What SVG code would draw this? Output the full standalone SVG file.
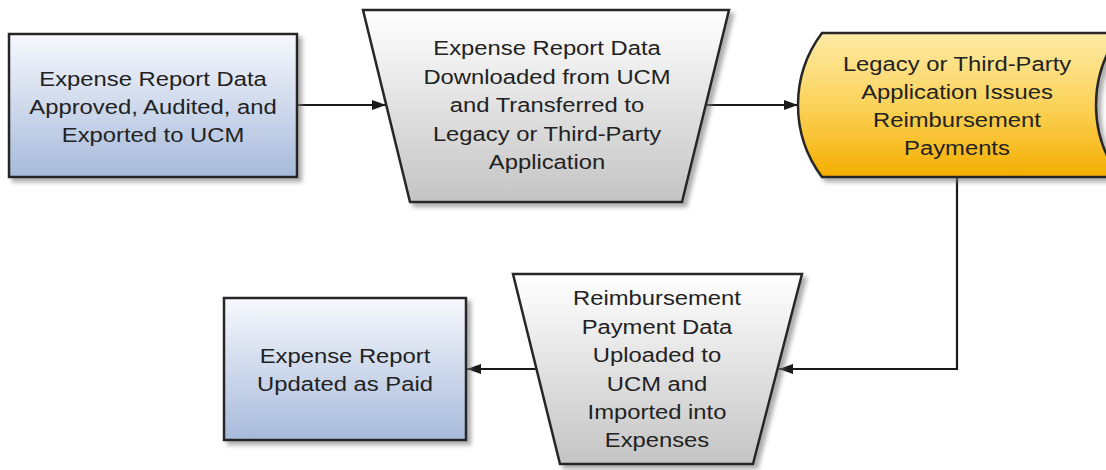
<svg xmlns="http://www.w3.org/2000/svg" width="1106" height="470" viewBox="0 0 1106 470">
<defs>
<linearGradient id="gBlue" x1="0" y1="0" x2="0" y2="1"><stop offset="0" stop-color="#f7f9fd"/><stop offset="1" stop-color="#a7badb"/></linearGradient>
<linearGradient id="gGray" x1="0" y1="0" x2="0" y2="1"><stop offset="0" stop-color="#ffffff"/><stop offset="1" stop-color="#c4c4c4"/></linearGradient>
<linearGradient id="gYel" x1="0" y1="0" x2="0" y2="1"><stop offset="0" stop-color="#fdeaa6"/><stop offset="0.5" stop-color="#fbd35a"/><stop offset="1" stop-color="#f5ae00"/></linearGradient>
<filter id="sh" x="-10%" y="-10%" width="130%" height="130%"><feDropShadow dx="4" dy="4" stdDeviation="2" flood-color="#777" flood-opacity="0.6"/></filter>
<marker id="ah" viewBox="0 0 14 10" refX="14" refY="5" markerWidth="14" markerHeight="10" markerUnits="userSpaceOnUse" orient="auto"><path d="M0,0 L14,5 L0,10 z" fill="#1a1a1a"/></marker>
</defs>
<style>
.shape{stroke:#262626;stroke-width:2.5;filter:url(#sh)}
.t{font-family:"Liberation Sans",Arial,sans-serif;font-size:20px;fill:#222;text-anchor:middle}
.c{fill:none;stroke:#1a1a1a;stroke-width:2.2}
</style>
<g id="connectors">
<line class="c" x1="297" y1="105" x2="386" y2="105" marker-end="url(#ah)"/>
<line class="c" x1="706" y1="105" x2="798" y2="105" marker-end="url(#ah)"/>
<polyline class="c" points="957,177 957,369 779,369" marker-end="url(#ah)"/>
<line class="c" x1="536" y1="369" x2="467" y2="369" marker-end="url(#ah)"/>
</g>
<g id="n1">
<rect class="shape" x="9" y="34" width="288" height="143" fill="url(#gBlue)"/>
<g transform="translate(153 0) scale(1.19 1)">
<text class="t" x="0" y="86">Expense Report Data</text>
<text class="t" x="0" y="114">Approved, Audited, and</text>
<text class="t" x="0" y="142">Exported to UCM</text>
</g>
</g>
<g id="n2">
<polygon class="shape" points="363,10 729,10 682,202 410,202" fill="url(#gGray)"/>
<g transform="translate(547 0) scale(1.19 1)">
<text class="t" x="0" y="55">Expense Report Data</text>
<text class="t" x="0" y="84">Downloaded from UCM</text>
<text class="t" x="0" y="112">and Transferred to</text>
<text class="t" x="0" y="141">Legacy or Third-Party</text>
<text class="t" x="0" y="169">Application</text>
</g>
</g>
<g id="n3">
<path class="shape" d="M822,33 L1120,33 A120,120 0 0 0 1120,177 L822,177 A120,120 0 0 1 822,33 Z" fill="url(#gYel)"/>
<g transform="translate(957 0) scale(1.19 1)">
<text class="t" x="0" y="71">Legacy or Third-Party</text>
<text class="t" x="0" y="99">Application Issues</text>
<text class="t" x="0" y="127">Reimbursement</text>
<text class="t" x="0" y="155">Payments</text>
</g>
</g>
<g id="n4">
<polygon class="shape" points="513,274 802,274 753,464 560,464" fill="url(#gGray)"/>
<g transform="translate(657 0) scale(1.19 1)">
<text class="t" x="0" y="305">Reimbursement</text>
<text class="t" x="0" y="334">Payment Data</text>
<text class="t" x="0" y="362">Uploaded to</text>
<text class="t" x="0" y="391">UCM and</text>
<text class="t" x="0" y="419">Imported into</text>
<text class="t" x="0" y="447">Expenses</text>
</g>
</g>
<g id="n5">
<rect class="shape" x="224" y="298" width="242" height="142" fill="url(#gBlue)"/>
<g transform="translate(345 0) scale(1.19 1)">
<text class="t" x="0" y="363">Expense Report</text>
<text class="t" x="0" y="391">Updated as Paid</text>
</g>
</g>
</svg>
